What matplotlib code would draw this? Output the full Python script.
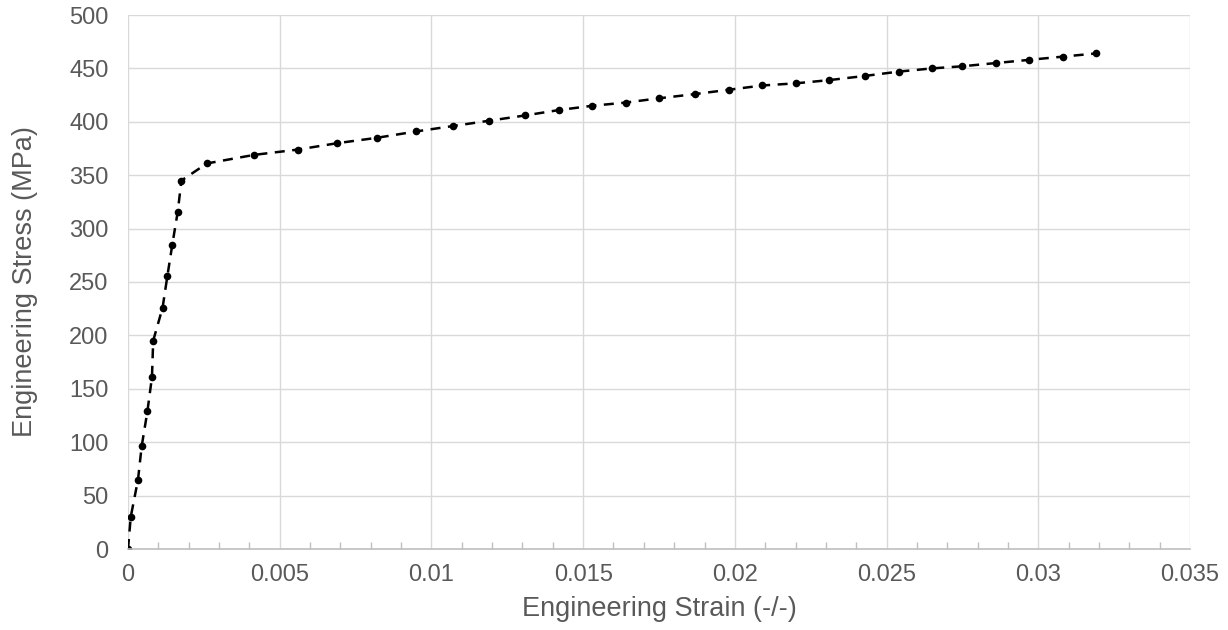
import matplotlib
matplotlib.use("Agg")
import matplotlib.pyplot as plt
from matplotlib.ticker import MultipleLocator

strain = [0.0, 0.00009, 0.00033, 0.00045, 0.00064, 0.00079, 0.00083, 0.00114, 0.0013,
          0.00146, 0.00164, 0.00176, 0.0026, 0.00415, 0.0056, 0.0069, 0.0082, 0.0095,
          0.0107, 0.0119, 0.0131, 0.0142, 0.0153, 0.0164, 0.0175, 0.0187, 0.0198,
          0.0209, 0.0220, 0.0231, 0.0243, 0.0254, 0.0265, 0.0275, 0.0286, 0.0297,
          0.0308, 0.0319]
stress = [0, 30, 65, 96, 129, 161, 195, 226, 256, 285, 316, 345, 361, 369, 374, 380,
          385, 391, 396, 401, 406, 411, 415, 418, 422, 426, 430, 434, 436, 439, 443,
          447, 450, 452, 455, 458, 461, 464]

xticks = [0, 0.005, 0.01, 0.015, 0.02, 0.025, 0.03, 0.035]
xticklabels = ["0", "0.005", "0.01", "0.015", "0.02", "0.025", "0.03", "0.035"]
yticks = list(range(0, 501, 50))

fam = ['Liberation Sans', 'DejaVu Sans']
plt.rcParams['font.family'] = fam
gray = "#595959"
fig = plt.figure(figsize=(12.28, 6.3), dpi=100)
ax = fig.add_axes([128/1228, 81/630, 1062/1228, 534/630])

ax.plot(strain, stress, color="black", linestyle=(0, (4, 3)), linewidth=1.8,
        marker="o", markersize=5.5, markeredgewidth=0)

ax.set_xlim(0, 0.035)
ax.set_ylim(0, 500)
ax.set_xticks(xticks)
ax.set_xticklabels(xticklabels)
ax.set_yticks(yticks)
ax.set_yticklabels([str(v) for v in yticks])
ax.xaxis.set_minor_locator(MultipleLocator(0.001))

ax.grid(True, which="major", color="#d9d9d9", linewidth=1)
ax.set_axisbelow(True)
for s in ["top", "right", "left"]:
    ax.spines[s].set_visible(False)
ax.spines["bottom"].set_color("#bfbfbf")
ax.spines["bottom"].set_linewidth(1.2)

ax.tick_params(axis="x", which="major", length=0, labelsize=17, labelcolor=gray, pad=11)
ax.tick_params(axis="x", which="minor", direction="in", length=5, color="#bfbfbf", width=1)
ax.tick_params(axis="y", length=0, labelsize=17, labelcolor=gray, pad=14)

ax.set_xlabel("Engineering Strain (-/-)", fontsize=19.5, color=gray)
ax.set_ylabel("Engineering Stress (MPa)", fontsize=19.5, color=gray)
ax.xaxis.set_label_coords(0.5, -47/534)
ax.yaxis.set_label_coords(-90/1062, 0.5)

fig.savefig("out.png", dpi=100)
